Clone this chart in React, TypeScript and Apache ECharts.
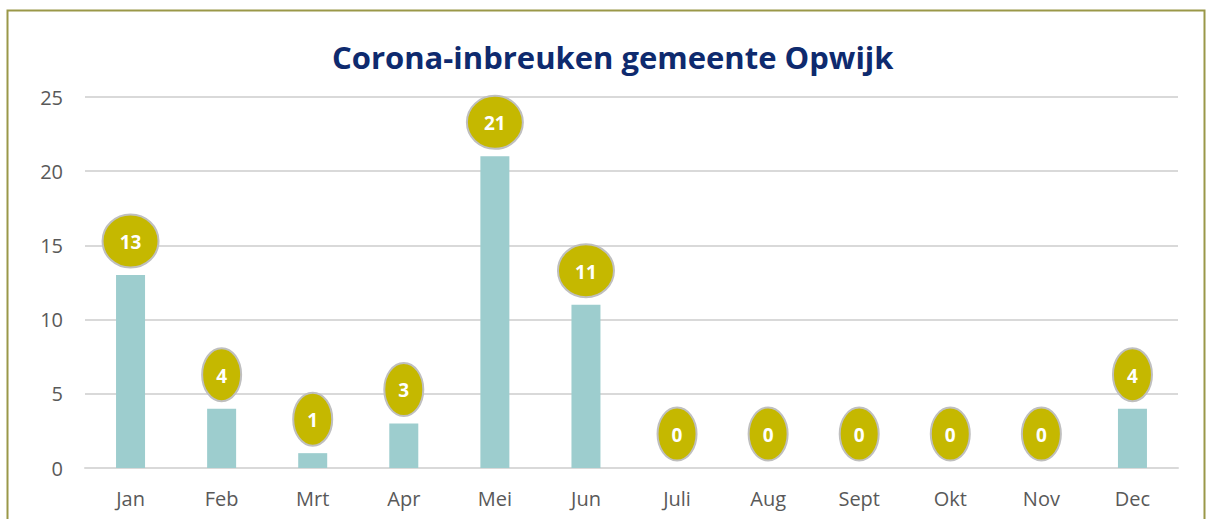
import React, { useEffect, useRef } from "react";
import * as echarts from "echarts";

const months = ["Jan", "Feb", "Mrt", "Apr", "Mei", "Jun", "Juli", "Aug", "Sept", "Okt", "Nov", "Dec"];
const values = [13, 4, 1, 3, 21, 11, 0, 0, 0, 0, 0, 4];
const yTicks = { min: 0, max: 25, interval: 5 };
const title = "Corona-inbreuken gemeente Opwijk";

export default function App() {
  const ref = useRef<HTMLDivElement>(null);
  useEffect(() => {
    if (!ref.current) return;
    const chart = echarts.init(ref.current, null, { renderer: "svg" });
    chart.setOption({
      animation: false,
      title: {
        text: title,
        left: 327,
        top: 36,
        textStyle: { color: "#0e2a6e", fontSize: 31, fontWeight: "bold", fontFamily: "Open Sans" },
      },
      graphic: [
        {
          type: "rect",
          shape: { x: 7.5, y: 10.5, width: 1197, height: 540 },
          style: { fill: "none", stroke: "#9a9848", lineWidth: 2 },
          silent: true,
        },
      ],
      grid: { left: 85, right: 30, top: 97, bottom: 51, containLabel: false },
      xAxis: {
        type: "category",
        data: months,
        axisLine: { show: true, lineStyle: { color: "#d9d9d9", width: 2 } },
        axisTick: { show: false },
        axisLabel: { color: "#595959", fontSize: 20, fontFamily: "Open Sans", margin: 20 },
      },
      yAxis: {
        type: "value",
        min: yTicks.min,
        max: yTicks.max,
        interval: yTicks.interval,
        axisLine: { show: false },
        axisTick: { show: false },
        splitLine: { lineStyle: { color: "#d9d9d9", width: 2 } },
        axisLabel: { color: "#595959", fontSize: 20, fontFamily: "Open Sans", margin: 22 },
      },
      series: [
        {
          type: "bar",
          data: values,
          barWidth: 29,
          itemStyle: { color: "#9dcdce" },
          z: 2,
        },
        {
          type: "custom",
          data: values.map((v, i) => [i, v]),
          z: 5,
          renderItem: (params: any, api: any) => {
            const idx = api.value(0);
            const v = api.value(1);
            const p = api.coord([idx, v]);
            const cx = p[0];
            const cy = p[1] - 34;
            const two = String(v).length > 1;
            const rx = two ? 28 : 19.5;
            const ry = 26.5;
            return {
              type: "group",
              children: [
                {
                  type: "ellipse",
                  shape: { cx, cy, rx, ry },
                  style: { fill: "#c5b800", stroke: "#bfbfbf", lineWidth: 2 },
                },
                {
                  type: "text",
                  style: {
                    text: String(v),
                    x: cx,
                    y: cy + 1,
                    align: "center",
                    verticalAlign: "middle",
                    fill: "#ffffff",
                    font: "bold 19px 'Open Sans'",
                  },
                },
              ],
            };
          },
        },
      ],
    });
    return () => chart.dispose();
  }, []);
  return (
    <div
      ref={ref}
      style={{ position: "fixed", left: 0, top: 0, width: 1208, height: 519, background: "#fff" }}
    />
  );
}
